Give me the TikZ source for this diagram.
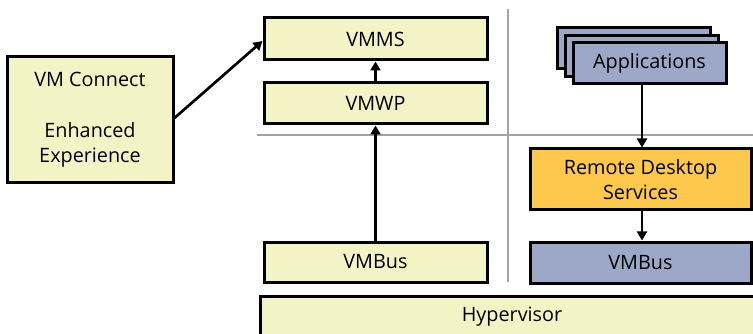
\documentclass[tikz,border=0pt]{standalone}
\usepackage{fontspec}
\setmainfont{Open Sans}
\usetikzlibrary{arrows.meta,calc}
\definecolor{lightyel}{HTML}{F3F4C6}
\definecolor{bluegray}{HTML}{9DA8C9}
\definecolor{orangey}{HTML}{FDC84C}
\definecolor{sepgray}{HTML}{A3A3A3}
\tikzset{
  box/.style={draw=black, line width=3pt, inner sep=0pt, font=\fontsize{19.8}{25}\selectfont, align=center},
  ybox/.style={box, fill=lightyel},
  bbox/.style={box, fill=bluegray},
  obox/.style={box, fill=orangey},
  arr/.style={line width=2.7pt, -{Triangle[length=9pt,width=10pt]}},
  sep/.style={draw=sepgray, line width=2.8pt}
}
\begin{document}
\begin{tikzpicture}[x=1pt,y=-1pt]
\useasboundingbox (0,0) rectangle (753,334);
\clip (0,0) rectangle (753,334);
% separators
\coordinate (h1) at (257,135);
\coordinate (h2) at (753,135);
\coordinate (v1) at (508,9);
\coordinate (v2) at (508,282);
\draw[sep] (h1) -- (h2);
\draw[sep] (v1) -- (v2);
% left column
\node[ybox, minimum width=223pt, minimum height=42pt] (vmms) at (375.5,39) {VMMS};
\node[ybox, minimum width=223pt, minimum height=41pt] (vmwp) at (375.5,103.5) {VMWP};
\node[ybox, minimum width=223pt, minimum height=40pt] (vmbusl) at (375.5,262) {VMBus};
\node[ybox, minimum width=166pt, minimum height=126pt] (vmc) at (90,120) {VM Connect\\[26pt]Enhanced\\Experience};
% hypervisor
\node[ybox, minimum width=504pt, minimum height=42pt] (hyp) at (512,317) {Hypervisor};
% right column
\node[bbox, minimum width=153pt, minimum height=41pt] (app3) at (633.5,48.5) {};
\node[bbox, minimum width=153pt, minimum height=41pt] (app2) at (641.5,56) {};
\node[bbox, minimum width=153pt, minimum height=41pt] (app) at (649.5,63.5) {Applications};
\node[obox, minimum width=221pt, minimum height=61pt] (rds) at (640.5,179.5) {Remote Desktop\\Services};
\node[bbox, minimum width=221pt, minimum height=41pt] (vmbusr) at (640.5,262.5) {VMBus};
% arrows
\draw[arr] (vmwp.north) -- (vmms.south);
\draw[arr] (vmbusl.north) -- (vmwp.south);
\draw[arr] (vmc.east |- 0,118) -- (vmms.west |- 0,41);
\draw[arr] ($(app.south -| rds.north)+(1.5,0)$) -- ($(rds.north)+(1.5,0)$);
\draw[arr] ($(rds.south)+(1.5,0)$) -- ($(vmbusr.north)+(1.5,0)$);
\end{tikzpicture}
\end{document}
